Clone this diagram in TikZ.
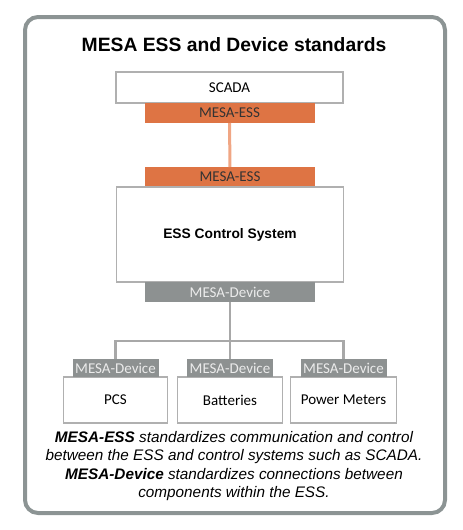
\documentclass[tikz,border=0pt]{standalone}
\usepackage{fontspec}
\setmainfont{Liberation Sans}
\newfontfamily\calibri{Carlito}
\usepackage{xcolor}
\usepackage{tikz}
\usetikzlibrary{positioning}
\definecolor{mesaorange}{RGB}{222,116,68}
\definecolor{mesalink}{RGB}{240,166,132}
\definecolor{mesagray}{RGB}{141,145,145}
\definecolor{boxline}{RGB}{176,176,176}
\definecolor{treeline}{RGB}{168,168,168}
\definecolor{framegray}{RGB}{140,148,148}

\begin{document}
\begin{tikzpicture}[
    x=1pt, y=-1pt,
    node distance=0pt,
    frame/.style={draw=framegray, line width=4pt, rounded corners=13pt},
    unit/.style={rectangle, draw=boxline, fill=white, line width=1.2pt,
                 minimum width=#1, inner sep=0pt, outer sep=0pt,
                 font=\calibri\fontsize{15}{15}\selectfont},
    tag/.style={rectangle, fill=#1, minimum height=20pt, inner sep=0pt,
                outer sep=0pt, font=\calibri\fontsize{15}{15}\selectfont},
    esstag/.style={tag=mesaorange, minimum width=170pt, text=black!80},
    devtag/.style={tag=mesagray, text=white!92!black},
    esslink/.style={draw=mesalink, line width=3pt},
    tree/.style={draw=treeline, line width=2.5pt}
]
\useasboundingbox (0,0) rectangle (463,530);
\draw[frame] (25,17) rectangle (445,513);

% Title
\node[font=\bfseries\fontsize{19.3}{22}\selectfont] (title) at (234,45)
    {MESA ESS and Device standards};

% Upper stack
\node[unit=227pt, minimum height=31pt] (scada) at (229.5,87.5) {SCADA};
\node[esstag, below=of scada] (esstop) {MESA-ESS};
\node[esstag] (essbot) at (230,177) {MESA-ESS};
\node[unit=227pt, minimum height=95pt, below=of essbot,
      font=\bfseries\fontsize{13.8}{16}\selectfont] (ctrl) {ESS Control System};
\node[devtag, minimum width=170pt, below=of ctrl] (devtop) {MESA-Device};

% Devices
\node[unit=104pt, minimum height=46pt] (pcs) at (115.5,400) {PCS};
\node[unit=105pt, minimum height=46pt, right=10pt of pcs] (bat) {Batteries};
\node[unit=106pt, minimum height=46pt, right=8pt of bat] (met) {Power Meters};
\node[devtag, minimum width=86pt, minimum height=18pt, above=of pcs] (pcstag) {MESA-Device};
\node[devtag, minimum width=86pt, minimum height=18pt, above=of bat] (battag) {MESA-Device};
\node[devtag, minimum width=86pt, minimum height=18pt, above=of met] (mettag) {MESA-Device};

% Links
\coordinate (bus) at (230,341);
\draw[esslink] (esstop) -- (essbot);
\draw[tree] (devtop) -- (battag);
\draw[tree] (pcstag.north) |- (bus) -| (mettag.north);

% Caption
\node[font=\itshape\fontsize{15.3}{18.5}\selectfont, align=center] (caption) at (234,466)
    {\textbf{MESA-ESS} standardizes communication and control\\
     between the ESS and control systems such as SCADA.\\
     \textbf{MESA-Device} standardizes connections between\\
     components within the ESS.};
\end{tikzpicture}
\end{document}
